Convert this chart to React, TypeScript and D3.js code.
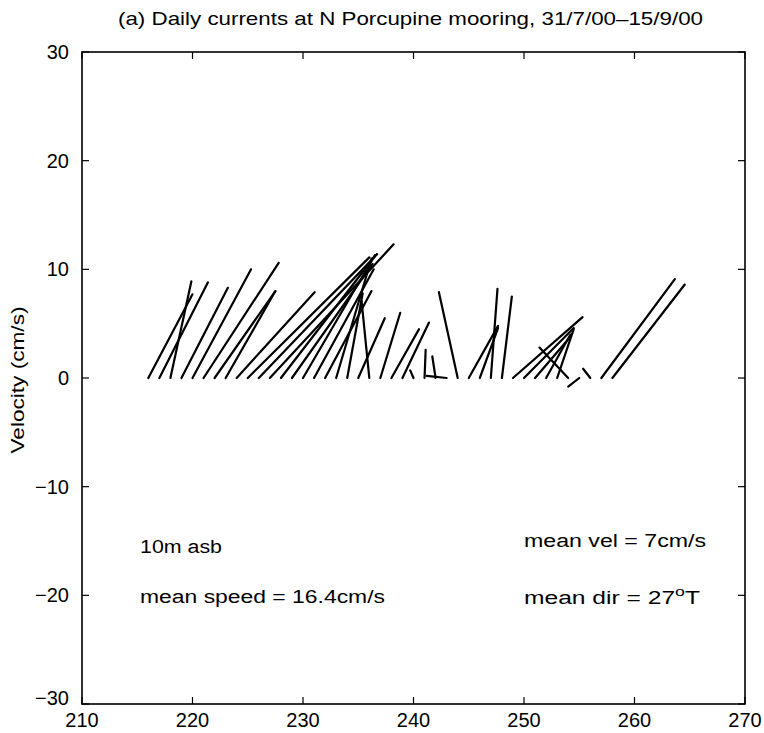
import React from "react";
import * as d3 from "d3";

const days = [216,217,218,219,220,221,222,223,224,225,226,227,228,229,230,231,232,233,234,235,236,237,238,239,240,241,242,243,244,245,246,247,248,249,250,251,252,253,254,255,256,257,258];
const uVals = [4.0,4.4,1.9,4.2,5.3,6.8,5.5,4.5,7.05,11.0,10.7,11.2,8.5,7.3,6.5,5.4,4.2,3.2,1.4,2.4,-0.7,1.8,2.5,2.4,-0.3,0.1,-0.3,-1.8,-1.7,2.65,1.65,0.6,0.9,6.3,4.5,3.2,2.2,1.5,-2.6,-1.0,-0.65,6.65,6.55];
const vVals = [7.7,8.8,8.9,8.3,10.0,10.6,8.0,8.0,7.9,11.1,11.4,12.3,11.2,10.5,11.3,10.0,8.0,11.0,7.8,5.5,7.1,6.0,4.5,5.1,0.7,2.6,2.0,0.2,7.9,4.8,4.6,8.2,7.5,5.6,4.6,3.8,4.0,4.5,2.8,-0.8,0.85,9.1,8.6];
const xTicks = [210,220,230,240,250,260,270];
const yTicks = [-30,-20,-10,0,10,20,30];
const title = "(a) Daily currents at N Porcupine mooring, 31/7/00\u201315/9/00";
const yLabel = "Velocity (cm/s)";

export default function App() {
  const W = 764, H = 733;
  const left = 82, right = 745, top = 52, bottom = 704;
  const x = d3.scaleLinear().domain([210, 270]).range([left, right]);
  const y = d3.scaleLinear().domain([-30, 30]).range([bottom, top]);
  const fmt = d3.format("d");
  const font = "'Liberation Sans', Arial, Helvetica, sans-serif";
  const tickLen = 7;
  const line = d3.line<[number, number]>().x(d => d[0]).y(d => d[1]);

  return (
    <svg width={W} height={H} style={{ position: "absolute", left: 0, top: 0, background: "#fff" }} fontFamily={font}>
      <rect x={0} y={0} width={W} height={H} fill="#fff" />
      <text x={118} y={25} fontSize={19} textLength={585} lengthAdjust="spacingAndGlyphs">{title}</text>
      <text transform={`translate(24,${(top + bottom) / 2 + 2}) rotate(-90)`} textAnchor="middle" fontSize={19} textLength={147} lengthAdjust="spacingAndGlyphs">{yLabel}</text>
      {days.map((d, i) => (
        <path key={d} d={line([[x(d), y(0)], [x(d + uVals[i]), y(vVals[i])]]) || ""} stroke="#000" strokeWidth={2.2} fill="none" strokeLinecap="round" />
      ))}
      <rect x={left} y={top} width={right - left} height={bottom - top} fill="none" stroke="#000" strokeWidth={1.6} />
      {xTicks.map(t => (
        <g key={"x" + t}>
          <line x1={x(t)} x2={x(t)} y1={bottom} y2={bottom - tickLen} stroke="#000" strokeWidth={1.2} />
          <line x1={x(t)} x2={x(t)} y1={top} y2={top + tickLen} stroke="#000" strokeWidth={1.2} />
          <text x={x(t)} y={727} textAnchor="middle" fontSize={20}>{fmt(t)}</text>
        </g>
      ))}
      {yTicks.map(t => (
        <g key={"y" + t}>
          <line x1={left} x2={left + tickLen} y1={y(t)} y2={y(t)} stroke="#000" strokeWidth={1.2} />
          <line x1={right} x2={right - tickLen} y1={y(t)} y2={y(t)} stroke="#000" strokeWidth={1.2} />
          <text x={69} y={y(t) + 7 - (t === -30 ? 6 : 0)} textAnchor="end" fontSize={20}>{fmt(t)}</text>
        </g>
      ))}
      <text x={140} y={553} fontSize={18} textLength={82} lengthAdjust="spacingAndGlyphs">10m asb</text>
      <text x={140} y={603} fontSize={18} textLength={245} lengthAdjust="spacingAndGlyphs">mean speed = 16.4cm/s</text>
      <text x={524} y={547} fontSize={18} textLength={182} lengthAdjust="spacingAndGlyphs">mean vel = 7cm/s</text>
      <text x={524} y={604} fontSize={18} textLength={176} lengthAdjust="spacingAndGlyphs">mean dir = 27<tspan dy={-8} fontSize={13}>o</tspan><tspan dy={8}>T</tspan></text>
    </svg>
  );
}
